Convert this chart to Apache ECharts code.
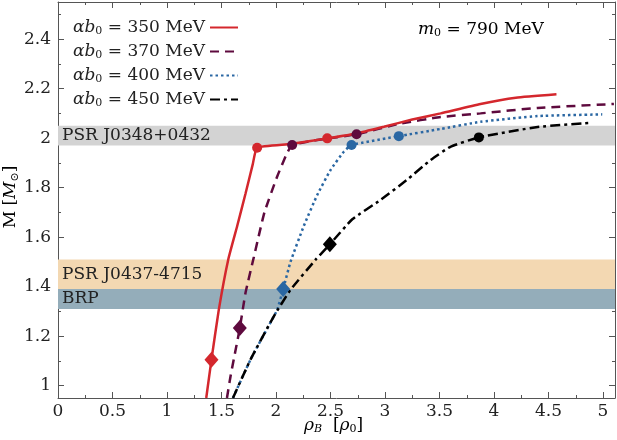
<html>
    <head>
        <meta charset="utf-8">
        <script src="https://cdn.jsdelivr.net/npm/echarts@6/dist/echarts.min.js"></script>
    </head>
    <body style="margin:0">
        <div id="main" style="width:617px;height:440px"></div>

        <script>
            // M(rho_B) curves for the four alpha*b0 values, [rho_B / rho0, M / Msun]
            var curve350 = [[1.36, 0.95], [1.408, 1.105], [1.475, 1.306], [1.561, 1.508], [1.644, 1.645],
                [1.72, 1.775], [1.787, 1.895], [1.827, 1.961], [2.133, 1.976], [2.47, 1.999], [2.75, 2.02],
                [2.99, 2.046], [3.25, 2.075], [3.51, 2.10], [3.876, 2.138], [4.2, 2.163], [4.573, 2.177]];
            var curve370 = [[1.55, 0.95], [1.583, 1.038], [1.668, 1.233], [1.72, 1.374], [1.797, 1.52],
                [1.894, 1.70], [2.011, 1.845], [2.10, 1.938], [2.148, 1.972], [2.378, 1.992], [2.739, 2.016],
                [3.142, 2.059], [3.51, 2.085], [3.876, 2.10], [4.40, 2.122], [5.1, 2.138]];
            var curve400 = [[1.605, 0.95], [1.766, 1.105], [1.98, 1.28], [2.011, 1.306], [2.066, 1.39],
                [2.133, 1.50], [2.255, 1.645], [2.378, 1.77], [2.5, 1.871], [2.622, 1.945], [2.693, 1.972],
                [3.127, 2.008], [3.51, 2.037], [3.876, 2.066], [4.40, 2.089], [4.993, 2.096]];
            var curve450 = [[1.605, 0.95], [1.766, 1.105], [1.98, 1.28], [2.133, 1.387], [2.362, 1.508],
                [2.494, 1.571], [2.70, 1.672], [2.959, 1.75], [3.20, 1.831], [3.417, 1.911], [3.60, 1.965],
                [3.861, 2.003], [4.40, 2.045], [4.901, 2.062]];

            // marked points on each curve
            var diamonds350 = [[1.408, 1.105]];
            var circles350 = [[1.827, 1.961], [2.47, 1.999]];
            var diamonds370 = [[1.668, 1.233]];
            var circles370 = [[2.148, 1.972], [2.739, 2.016]];
            var diamonds400 = [[2.066, 1.39]];
            var circles400 = [[2.693, 1.972], [3.127, 2.008]];
            var diamonds450 = [[2.494, 1.571]];
            var circles450 = [[3.861, 2.003]];

            var seriesNames = ['350', '370', '400', '450'];

            // observational mass bands [low, high]
            var bandJ0348 = [1.97, 2.05];
            var bandJ0437 = [1.39, 1.51];
            var bandBRP = [1.31, 1.39];

            var xTicks = [0, 0.5, 1, 1.5, 2, 2.5, 3, 3.5, 4, 4.5, 5];
            var xMinorTicks = [0.25, 0.75, 1.25, 1.75, 2.25, 2.75, 3.25, 3.75, 4.25, 4.75];
            var yTicks = [1, 1.2, 1.4, 1.6, 1.8, 2, 2.2, 2.4];
            var yMinorTicks = [1.1, 1.3, 1.5, 1.7, 1.9, 2.1, 2.3, 2.5];

            var X_MIN = 0, X_MAX = 5.11, Y_MIN = 0.95, Y_MAX = 2.55;
            var serif = 'DejaVu Serif';
            var axisColor = '#555';
            var FS = 17;

            var colors = {
                '350': '#d4272d',
                '370': '#5e0a3e',
                '400': '#2a67a3',
                '450': '#000000'
            };
            var dashes = {
                '350': 'solid',
                '370': [9, 6],
                '400': [2.5, 3],
                '450': [10, 4, 3, 4]
            };

            var rich = {
                i: {fontFamily: serif, fontStyle: 'italic', fontSize: FS, color: '#222'},
                s: {fontFamily: serif, fontSize: 11, color: '#222', padding: [8, 0, 0, 0]},
                n: {fontFamily: serif, fontSize: FS, color: '#222'}
            };

            function makeAxis(type, pos, values, len, withLabel, withLine) {
                return {
                    type: 'value',
                    position: pos,
                    min: type === 'x' ? X_MIN : Y_MIN,
                    max: type === 'x' ? X_MAX : Y_MAX,
                    splitLine: {show: false},
                    axisLine: {show: withLine, onZero: false, lineStyle: {color: axisColor, width: 1}},
                    axisTick: {
                        show: true, inside: true, length: len,
                        customValues: values,
                        lineStyle: {color: axisColor}
                    },
                    axisLabel: {
                        show: withLabel,
                        customValues: values,
                        fontFamily: serif,
                        fontSize: FS,
                        color: '#222',
                        margin: type === 'x' ? 5 : 7
                    }
                };
            }

            var series = [];

            // bands, drawn underneath everything
            series.push({
                type: 'line',
                name: 'bands',
                data: [],
                silent: true,
                z: 1,
                markArea: {
                    silent: true,
                    label: {
                        position: 'insideLeft',
                        distance: 4,
                        fontFamily: serif,
                        fontSize: FS,
                        color: '#222'
                    },
                    data: [
                        [{yAxis: bandJ0348[0], itemStyle: {color: '#d3d3d3'}, label: {formatter: 'PSR J0348+0432'}},
                            {yAxis: bandJ0348[1]}],
                        [{yAxis: bandJ0437[0], itemStyle: {color: '#f3d8b2'}, label: {formatter: 'PSR J0437-4715'}},
                            {yAxis: bandJ0437[1]}],
                        [{yAxis: bandBRP[0], itemStyle: {color: '#94adba'}, label: {formatter: 'BRP'}},
                            {yAxis: bandBRP[1]}]
                    ]
                }
            });

            var curves = {'350': curve350, '370': curve370, '400': curve400, '450': curve450};
            var diamonds = {'350': diamonds350, '370': diamonds370, '400': diamonds400, '450': diamonds450};
            var circles = {'350': circles350, '370': circles370, '400': circles400, '450': circles450};

            // blue under the dash-dot black where they overlap
            ['400', '450', '370', '350'].forEach(function (k) {
                series.push({
                    type: 'line',
                    name: k,
                    data: curves[k],
                    symbol: 'none',
                    smooth: 0.15,
                    z: 3,
                    lineStyle: {color: colors[k], width: 2.5, type: dashes[k]},
                    itemStyle: {color: colors[k]}
                });
            });
            seriesNames.forEach(function (k) {
                series.push({
                    type: 'scatter',
                    name: k + '-d',
                    data: diamonds[k],
                    symbol: 'diamond',
                    symbolSize: [14, 16],
                    z: 4,
                    itemStyle: {color: colors[k], opacity: 1}
                });
                series.push({
                    type: 'scatter',
                    name: k + '-c',
                    data: circles[k],
                    symbol: 'circle',
                    symbolSize: 10,
                    z: 4,
                    itemStyle: {color: colors[k], opacity: 1}
                });
            });

            var chart = echarts.init(document.getElementById('main'));

            chart.setOption({
                animation: false,
                backgroundColor: '#fff',
                grid: {left: 58, right: 2, top: 2, bottom: 42},
                legend: {
                    data: seriesNames,
                    orient: 'vertical',
                    align: 'right',
                    left: 68,
                    top: 14,
                    itemWidth: 28,
                    itemHeight: 12,
                    itemGap: 6,
                    selectedMode: false,
                    itemStyle: {opacity: 0},
                    formatter: function (name) {
                        return '{i|αb}{s|0}{n| = ' + name + ' MeV}';
                    },
                    textStyle: {rich: rich}
                },
                xAxis: [
                    makeAxis('x', 'bottom', xTicks, 6, true, true),
                    makeAxis('x', 'bottom', xMinorTicks, 3, false, false),
                    makeAxis('x', 'top', xTicks, 6, false, true),
                    makeAxis('x', 'top', xMinorTicks, 3, false, false)
                ],
                yAxis: [
                    makeAxis('y', 'left', yTicks, 6, true, true),
                    makeAxis('y', 'left', yMinorTicks, 3, false, false),
                    makeAxis('y', 'right', yTicks, 6, false, true),
                    makeAxis('y', 'right', yMinorTicks, 3, false, false)
                ],
                graphic: [
                    {
                        type: 'text',
                        left: 418,
                        top: 21,
                        style: {text: '{i|m}{s|0}{n| = 790 MeV}', rich: rich}
                    },
                    {
                        type: 'text',
                        left: 304,
                        top: 417,
                        style: {text: '{i|ρ}{si|B}{n|  [}{i|ρ}{s|0}{n|]}', rich: {
                            i: rich.i, n: rich.n, s: rich.s,
                            si: {fontFamily: serif, fontStyle: 'italic', fontSize: 11, color: '#222', padding: [8, 0, 0, 0]}
                        }}
                    },
                    {
                        type: 'text',
                        x: 11,
                        y: 197,
                        rotation: Math.PI / 2,
                        style: {
                            text: '{n|M [}{i|M}{s|⊙}{n|]}',
                            rich: rich,
                            align: 'center',
                            verticalAlign: 'middle'
                        }
                    }
                ],
                series: series
            });
        </script>
    </body>
</html>
